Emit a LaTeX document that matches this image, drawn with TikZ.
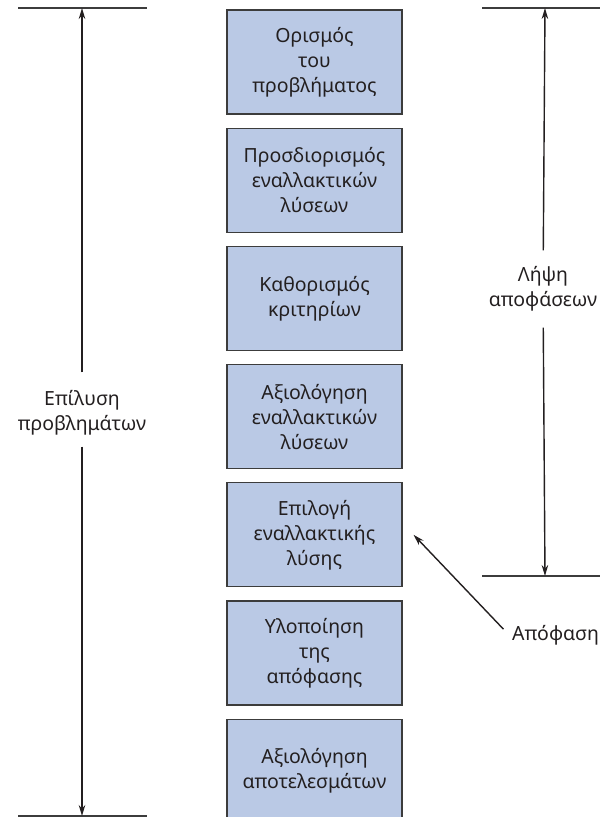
\documentclass[tikz,border=0pt]{standalone}
\usepackage{fontspec}
\setmainfont{Noto Sans}
\usetikzlibrary{positioning,arrows.meta}
\definecolor{kouti}{RGB}{186,201,229}
\definecolor{grammi}{RGB}{60,60,60}
\definecolor{keimeno}{RGB}{35,31,32}

\begin{document}
\begin{tikzpicture}[%
x=1pt,y=-1pt,
bima/.style={draw=grammi,fill=kouti,line width=1.2pt,minimum width=175pt,minimum height=104pt,align=center,text=keimeno,font=\fontsize{19.5}{25}\selectfont},
orio/.style={grammi,line width=1.3pt},
velos/.style={-{Stealth[length=11pt,width=6.5pt]},line width=1.4pt,keimeno},
etiketa/.style={align=center,text=keimeno,inner sep=0pt,font=\fontsize{19.5}{25}\selectfont},
node distance=13pt]
\useasboundingbox (0,0) rectangle (600,817);
\node [bima] (b1) at (314.5,62) {Ορισμός\\του\\προβλήματος};
\node [bima,below=of b1] (b2) {Προσδιορισμός\\εναλλακτικών\\λύσεων};
\node [bima,below=of b2] (b3) {Καθορισμός\\κριτηρίων};
\node [bima,below=of b3] (b4) {Αξιολόγηση\\εναλλακτικών\\λύσεων};
\node [bima,below=of b4] (b5) {Επιλογή\\εναλλακτικής\\λύσης};
\node [bima,below=of b5] (b6) {Υλοποίηση\\της\\απόφασης};
\node [bima,below=of b6] (b7) {Αξιολόγηση\\αποτελεσμάτων};
\coordinate (lpano) at (82,8);
\coordinate (lkato) at (82,816);
\coordinate (dpano) at (545,8);
\coordinate (dkato) at (545,576);
\coordinate (stoxos) at ([xshift=11pt]b5.east);
\draw [orio] ([xshift=-64pt]lpano) -- ([xshift=65pt]lpano);
\draw [orio] ([xshift=-64pt]lkato) -- ([xshift=65pt]lkato);
\draw [orio] ([xshift=-63pt]dpano) -- ([xshift=60pt]dpano);
\draw [orio] ([xshift=-63pt]dkato) -- ([xshift=60pt]dkato);
\node [etiketa] (epilysi) at (82,413) {Επίλυση\\προβλημάτων};
\node [etiketa] (lipsi) at (543,289) {Λήψη\\αποφάσεων};
\node [etiketa,anchor=west,inner sep=3pt] (apofasi) at (509,635) {Απόφαση};
\draw [velos,shorten <=18pt] (epilysi) -- (lpano);
\draw [velos,shorten <=11pt] (epilysi) -- (lkato);
\draw [velos,shorten <=16pt] (lipsi) -- (dpano);
\draw [velos,shorten <=16pt] (lipsi) -- (dkato);
\draw [velos,shorten <=8pt] (apofasi.west) -- (stoxos);
\end{tikzpicture}
\end{document}
